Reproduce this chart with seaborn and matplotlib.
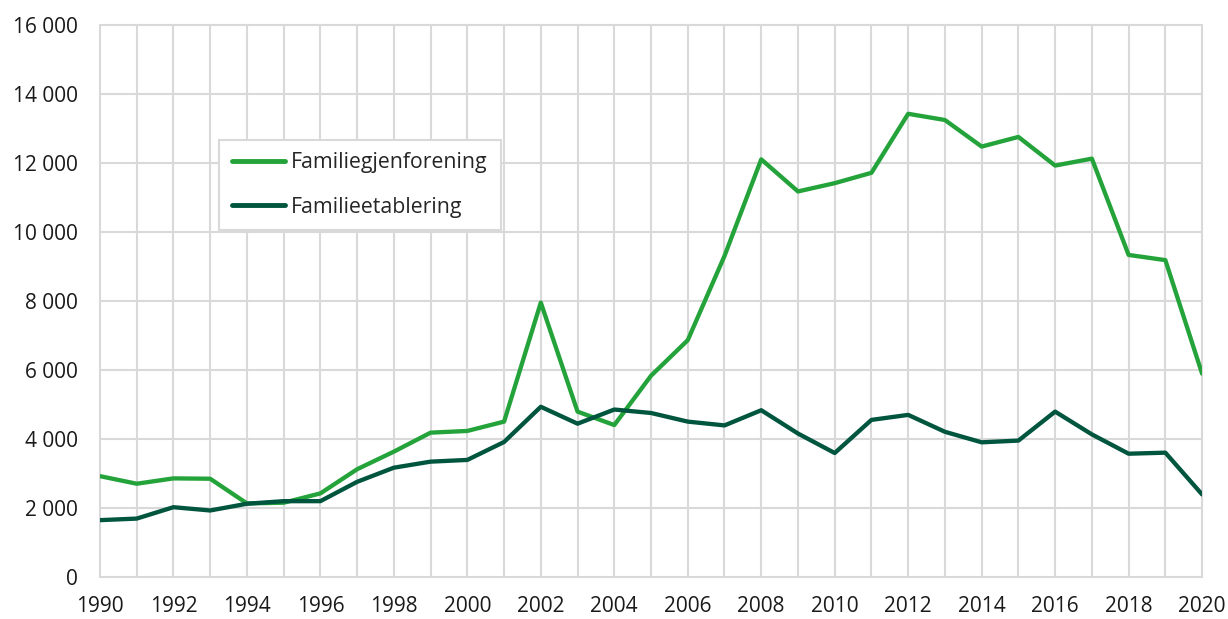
import pandas as pd
import numpy as np
import matplotlib
matplotlib.use("Agg")
import matplotlib.pyplot as plt
from matplotlib.ticker import FuncFormatter, MultipleLocator
import seaborn as sns

years = list(range(1990, 2021))
gjenforening = [2920, 2700, 2855, 2845, 2130, 2150, 2420, 3120, 3630, 4180, 4230, 4500,
                7950, 4790, 4400, 5830, 6860, 9300, 12100, 11170, 11410, 11710, 13420,
                13240, 12470, 12750, 11920, 12120, 9330, 9180, 5890]
etablering = [1645, 1690, 2020, 1925, 2120, 2195, 2195, 2755, 3165, 3340, 3390, 3910,
              4930, 4440, 4850, 4750, 4500, 4390, 4830, 4155, 3590, 4550, 4695,
              4205, 3900, 3950, 4790, 4130, 3570, 3600, 2390]
series_names = ["Familiegjenforening", "Familieetablering"]
colors = ["#23a33a", "#00553f"]

df = pd.DataFrame({
    "year": years * 2,
    "value": gjenforening + etablering,
    "series": [series_names[0]] * len(years) + [series_names[1]] * len(years),
})

sns.set_style("white")
plt.rcParams["font.family"] = ["Open Sans", "DejaVu Sans"]

fig = plt.figure(figsize=(12.28, 6.19), dpi=100)
ax = fig.add_axes([0.0814, 0.068, 0.8975, 0.892])

sns.lineplot(data=df, x="year", y="value", hue="series", palette=colors,
             linewidth=3.1, ax=ax, zorder=3)

ax.set_xlim(1990, 2020)
ax.set_ylim(0, 16000)
ax.xaxis.set_major_locator(MultipleLocator(2))
ax.xaxis.set_minor_locator(MultipleLocator(1))
ax.yaxis.set_major_locator(MultipleLocator(2000))
ax.yaxis.set_major_formatter(FuncFormatter(lambda v, p: f"{int(v):,}".replace(",", " ")))
ax.grid(which="both", color="#d9d9d9", linewidth=1.5)
fig.canvas.draw()
grid_lines = [t.gridline for t in ax.xaxis.get_major_ticks() + ax.xaxis.get_minor_ticks()
              + ax.yaxis.get_major_ticks()]
for line in grid_lines:
    line.set_clip_on(False)
ax.set_axisbelow(True)
for s in ax.spines.values():
    s.set_visible(False)
ax.tick_params(which="both", length=0)
ax.tick_params(axis="y", labelsize=15, pad=16, colors="#1a1a1a")
ax.tick_params(axis="x", labelsize=15, pad=14, colors="#1a1a1a")
ax.set_xlabel("")
ax.set_ylabel("")

leg = ax.legend(loc="upper left", bbox_to_anchor=(0.108, 0.792), fontsize=15.3,
                frameon=True, fancybox=False, edgecolor="#d9d9d9", framealpha=1,
                handlelength=2.5, handletextpad=0.3, labelspacing=1.1,
                borderpad=0.6, borderaxespad=0)
leg.get_frame().set_linewidth(1.5)
for h in leg.get_lines():
    h.set_linewidth(3.5)

fig.savefig("out.png", dpi=100)
